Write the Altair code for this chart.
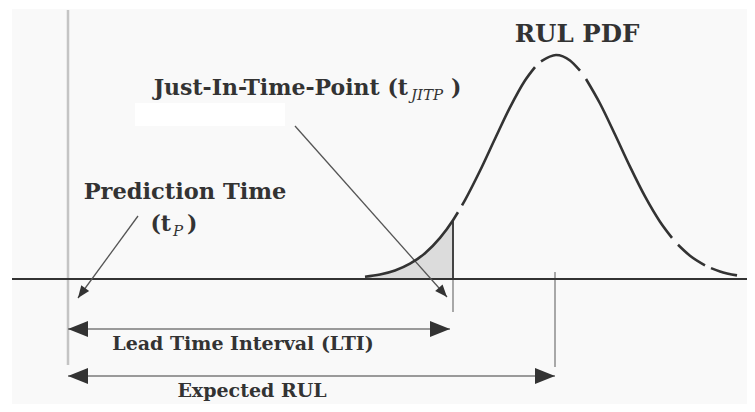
import altair as alt
import pandas as pd

# ---- data (pixel-like coordinates, y grows downward) ----
# RUL PDF curve (drawn in pieces, as in the reference)
curve_x = [365, 380, 395, 410, 425, 440, 453, 458,
           462, 465, 480, 495, 510, 525, 535,
           541, 556, 570, 580,
           586, 600, 615, 630, 645, 660, 672,
           678, 690, 705,
           711, 720, 737]
curve_y = [276.7, 274.5, 270.5, 263.7, 253.2, 237.9, 220.2, 212.2,
           205.4, 200.1, 170.8, 138.8, 107.4, 80.5, 67.1,
           61.3, 55.0, 60.5, 70.7,
           79.0, 103.5, 134.5, 166.6, 196.4, 221.7, 237.9,
           244.7, 255.7, 265.3,
           268.1, 271.4, 275.4]
curve_seg = [1] * 8 + [2] * 7 + [3] * 4 + [4] * 7 + [5] * 3 + [6] * 3

# shaded tail up to the Just-In-Time-Point
area_x = [365, 380, 395, 410, 425, 440, 453]
area_y = [276.7, 274.5, 270.5, 263.7, 253.2, 237.9, 220.2]
baseline_y = 279

# time axis
axis_x = [12, 755]

# guide lines (x, y_top, y_bottom)
tp_x, tp_top, tp_bottom = 68, 10, 365
jitp_x, jitp_curve_y, jitp_bottom = 453, 220.2, 312
erul_x, erul_top, erul_bottom = 555, 272, 367

# horizontal double arrows (x_start, x_end, y)
harrow_x1 = [68, 68]
harrow_x2 = [450, 555]
harrow_y = [329, 376]

# callout arrows (start -> tip)
call_x1 = [138, 295]
call_y1 = [216, 126]
call_x2 = [78, 447]
call_y2 = [298, 297]
call_angle = [126, 48.5]

# text
big_center_text = ["Prediction Time", "RUL PDF"]
big_center_x = [185, 577]
big_center_y = [199, 42]
big_center_size = [22.5, 24.5]

big_right_text = ["Just-In-Time-Point (t", "(t"]
big_right_x = [408, 171]
big_right_y = [95, 231]

sub_text = ["JITP", "P"]
sub_x = [411, 173]
sub_y = [100, 236]

close_text = [")", ")"]
close_x = [451, 187]
close_y = [95, 231]

small_text = ["Lead Time Interval (LTI)", "Expected RUL"]
small_x = [243, 252]
small_y = [350, 397]

# ---- scales: data units map 1:1 to page pixels ----
XS = alt.Scale(domain=[8, 747], nice=False, zero=False)
YS = alt.Scale(domain=[8, 404], nice=False, zero=False, reverse=True)


def X(f):
    return alt.X(f, type="quantitative", scale=XS, axis=None)


def Y(f):
    return alt.Y(f, type="quantitative", scale=YS, axis=None)


DARK = "#333333"
FONT = "DejaVu Serif"

# background panels
bg = alt.Chart(pd.DataFrame({"x": [12, 135], "x2": [755, 285],
                             "y": [9, 103], "y2": [410, 126],
                             "k": ["a", "b"]})).mark_rect().encode(
    x=X("x"), x2="x2", y=Y("y"), y2="y2",
    color=alt.Color("k:N", scale=alt.Scale(domain=["a", "b"], range=["#f9f9f9", "#ffffff"]), legend=None),
)

area_df = pd.DataFrame({"x": area_x, "y": area_y, "y2": [baseline_y] * len(area_x)})
area = alt.Chart(area_df).mark_area(color="#dcdcdc", interpolate="monotone").encode(
    x=X("x"), y=Y("y"), y2="y2")

tp_line = alt.Chart(pd.DataFrame({"x": [tp_x], "y": [tp_top], "y2": [tp_bottom]})).mark_rule(
    color="#c4c4c4", strokeWidth=2.5).encode(x=X("x"), y=Y("y"), y2="y2")

gray_vlines = alt.Chart(pd.DataFrame({"x": [jitp_x, erul_x], "y": [baseline_y, erul_top],
                                      "y2": [jitp_bottom, erul_bottom]})).mark_rule(
    color="#a8a8a8", strokeWidth=2).encode(x=X("x"), y=Y("y"), y2="y2")

jitp_edge = alt.Chart(pd.DataFrame({"x": [jitp_x], "y": [jitp_curve_y], "y2": [baseline_y]})).mark_rule(
    color="#444444", strokeWidth=2).encode(x=X("x"), y=Y("y"), y2="y2")

axis_line = alt.Chart(pd.DataFrame({"x": [axis_x[0]], "x2": [axis_x[1]], "y": [baseline_y]})).mark_rule(
    color=DARK, strokeWidth=2).encode(x=X("x"), x2="x2", y=Y("y"))

harrows = alt.Chart(pd.DataFrame({"x": harrow_x1, "x2": harrow_x2, "y": harrow_y})).mark_rule(
    color="#7a7a7a", strokeWidth=1.6).encode(x=X("x"), x2="x2", y=Y("y"))

callouts = alt.Chart(pd.DataFrame({"x": call_x1, "x2": call_x2, "y": call_y1, "y2": call_y2})).mark_rule(
    color="#555555", strokeWidth=1.3).encode(x=X("x"), x2="x2", y=Y("y"), y2="y2")

curve = alt.Chart(pd.DataFrame({"x": curve_x, "y": curve_y, "seg": curve_seg})).mark_line(
    color=DARK, strokeWidth=2.6, interpolate="monotone").encode(
    x=X("x"), y=Y("y"), detail="seg:N")

# arrow heads (tip at the data point)
HEAD = "M0,0L-2,-0.8L-2,0.8Z"
head_df = pd.DataFrame({
    "x": harrow_x1 + harrow_x2 + call_x2,
    "y": harrow_y + harrow_y + call_y2,
    "angle": [180, 180, 0, 0] + call_angle,
    "size": [400, 400, 400, 400, 150, 150],
})
heads = alt.Chart(head_df).mark_point(shape=HEAD, filled=True, color=DARK, opacity=1, strokeWidth=0).encode(
    x=X("x"), y=Y("y"),
    angle=alt.Angle("angle:Q", scale=None),
    size=alt.Size("size:Q", scale=None, legend=None),
)


def text_layer(texts, xs, ys, align, size, weight="bold", style="normal", sizes=None):
    df = pd.DataFrame({"t": texts, "x": xs, "y": ys})
    enc = dict(x=X("x"), y=Y("y"), text="t:N")
    if sizes is not None:
        df["s"] = sizes
        enc["size"] = alt.Size("s:Q", scale=None, legend=None)
    return alt.Chart(df).mark_text(
        align=align, baseline="alphabetic", font=FONT, fontSize=size,
        fontWeight=weight, fontStyle=style, color="#333333").encode(**enc)


t1 = text_layer(big_center_text, big_center_x, big_center_y, "center", 22, sizes=big_center_size)
t2 = text_layer(big_right_text, big_right_x, big_right_y, "right", 22)
t3 = text_layer(sub_text, sub_x, sub_y, "left", 15, weight="normal", style="italic")
t4 = text_layer(close_text, close_x, close_y, "left", 22)
t5 = text_layer(small_text, small_x, small_y, "center", 19)

chart = alt.layer(
    bg, area, tp_line, gray_vlines, jitp_edge, axis_line, harrows, callouts, curve, heads,
    t1, t2, t3, t4, t5,
).properties(
    width=739, height=396, padding=0,
    autosize=alt.AutoSizeParams(type="none"),
    background="white",
).configure_view(stroke=None)

chart.save("out.html", embed_options={"renderer": "svg", "actions": False})
